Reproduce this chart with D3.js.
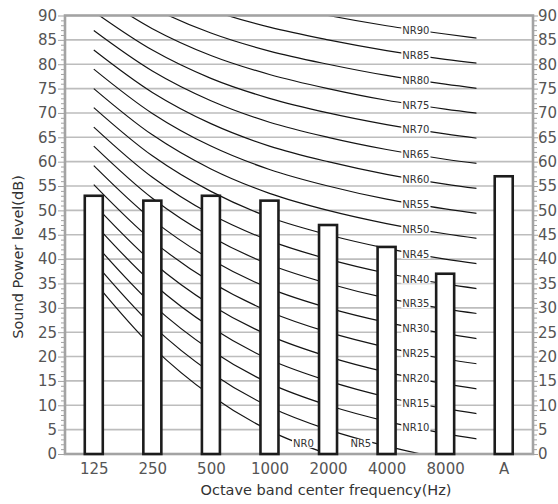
<!DOCTYPE html>
<html><head><meta charset="utf-8">
<script src="https://cdn.jsdelivr.net/npm/d3@7"></script>
<style>
body{margin:0;background:#fff;}
svg{display:block;font-family:"DejaVu Sans",sans-serif;}
</style>
</head><body>
<svg id="chart" width="558" height="504"></svg>
<script>
// ---- data ----
const categories = ["125","250","500","1000","2000","4000","8000","A"];
const levels = [53, 52, 53, 52, 47, 42.5, 37, 57];
const yTickValues = [0,5,10,15,20,25,30,35,40,45,50,55,60,65,70,75,80,85,90];
const xTitle = "Octave band center frequency(Hz)";
const yTitle = "Sound Power level(dB)";
const nrFreqs = ["63","125","250","500","1000","2000","4000","8000"];
const nrNames = ["NR0","NR5","NR10","NR15","NR20","NR25","NR30","NR35","NR40","NR45",
                 "NR50","NR55","NR60","NR65","NR70","NR75","NR80","NR85","NR90"];
const nrCurves = [
  [35.5, 22.0, 12.0,  4.8,  0.0, -3.5, -6.1, -8.0],
  [39.5, 26.4, 16.7,  9.7,  5.0,  1.6, -1.0, -2.9],
  [43.4, 30.7, 21.3, 14.5, 10.0,  6.7,  4.2,  2.3],
  [47.4, 35.1, 26.0, 19.4, 15.0, 11.7,  9.3,  7.5],
  [51.3, 39.4, 30.6, 24.3, 20.0, 16.8, 14.4, 12.6],
  [55.3, 43.8, 35.3, 29.2, 25.0, 21.9, 19.5, 17.8],
  [59.2, 48.1, 39.9, 34.0, 30.0, 27.0, 24.7, 22.9],
  [63.2, 52.5, 44.6, 38.9, 35.0, 32.0, 29.8, 28.1],
  [67.1, 56.8, 49.2, 43.8, 40.0, 37.1, 34.9, 33.2],
  [71.1, 61.2, 53.9, 48.6, 45.0, 42.2, 40.0, 38.4],
  [75.0, 65.5, 58.5, 53.5, 50.0, 47.3, 45.2, 43.5],
  [79.0, 69.9, 63.2, 58.4, 55.0, 52.3, 50.3, 48.7],
  [82.9, 74.2, 67.8, 63.2, 60.0, 57.4, 55.4, 53.8],
  [86.9, 78.6, 72.5, 68.1, 65.0, 62.5, 60.5, 59.0],
  [90.8, 82.9, 77.1, 73.0, 70.0, 67.6, 65.7, 64.1],
  [94.8, 87.3, 81.8, 77.9, 75.0, 72.6, 70.8, 69.3],
  [98.7, 91.6, 86.4, 82.7, 80.0, 77.7, 75.9, 74.4],
  [102.7, 96.0, 91.1, 87.6, 85.0, 82.8, 81.0, 79.6],
  [106.6, 100.3, 95.7, 92.5, 90.0, 87.9, 86.2, 84.7]
];
const nrLabelIndex = [3.58, 4.56, 5.5,5.5,5.5,5.5,5.5,5.5,5.5,5.5,5.5,5.5,5.5,5.5,5.5,5.5,5.5,5.5,5.5];
const bottomLabelLevel = 2.2;

// ---- layout ----
const svg = d3.select("#chart");
const plotL = 65, plotR = 533, plotT = 15.5, plotB = 454;
const x = d3.scalePoint().domain(categories).range([64.5, plotR]).padding(0.5);
const y = d3.scaleLinear().domain([0, 90]).range([plotB, plotT]);
const xNR = d3.scalePoint().domain(nrFreqs).range([x("125"), x("A")]);
const curveEndX = (x("8000") + x("A")) / 2 + 2;

const gridColor = "#bdbdbd", axisColor = "#a3a3a3", textColor = "#555";

// gridlines
svg.append("g").selectAll("line").data(yTickValues.filter(v => v > 0 && v < 90)).join("line")
  .attr("x1", plotL).attr("x2", plotR).attr("y1", d => y(d)).attr("y2", d => y(d))
  .attr("stroke", gridColor).attr("stroke-width", 1.6);

// clip for curves
svg.append("defs").append("clipPath").attr("id", "clipNR").append("rect")
  .attr("x", plotL).attr("y", plotT).attr("width", curveEndX - plotL).attr("height", plotB - plotT);

const line = d3.line().x((d, i) => xNR(nrFreqs[i])).y(d => y(d)).curve(d3.curveCatmullRom.alpha(0.5));
const curveG = svg.append("g").attr("clip-path", "url(#clipNR)");
const paths = curveG.selectAll("path").data(nrCurves).join("path")
  .attr("d", line).attr("fill", "none").attr("stroke", "#151515").attr("stroke-width", 1.2);

// labels
function yAtX(node, xt) {
  let lo = 0, hi = node.getTotalLength();
  for (let k = 0; k < 40; k++) {
    const mid = (lo + hi) / 2;
    if (node.getPointAtLength(mid).x < xt) lo = mid; else hi = mid;
  }
  return node.getPointAtLength((lo + hi) / 2).y;
}
const labelG = svg.append("g");
paths.each(function(d, i) {
  const lx = xNR("63") + nrLabelIndex[i] * xNR.step();
  let ly = nrLabelIndex[i] === 5.5 ? yAtX(this, lx) : y(bottomLabelLevel);
  const g = labelG.append("g");
  const t = g.append("text").attr("x", lx).attr("y", ly).attr("dy", "0.36em")
    .attr("text-anchor", "middle").attr("font-size", 10).attr("fill", "#333").text(nrNames[i]);
  const bb = t.node().getBBox();
  g.insert("rect", "text").attr("x", bb.x - 1).attr("y", bb.y + 1).attr("width", bb.width + 2)
    .attr("height", bb.height - 2).attr("fill", "#fff");
});

// axes
function styleAxis(g) {
  g.selectAll(".domain").remove();
  g.selectAll("line").attr("stroke", axisColor).attr("stroke-width", 1);
  g.selectAll("text").attr("fill", textColor).attr("font-size", 15).attr("font-family", "DejaVu Sans");
}
const minorTicks = d3.range(0, 91).filter(v => v % 5 !== 0);
svg.append("g").attr("transform", `translate(${plotL},0)`)
  .call(d3.axisLeft(y).tickValues(minorTicks).tickSize(4).tickFormat("")).call(styleAxis);
svg.append("g").attr("transform", `translate(${plotR},0)`)
  .call(d3.axisRight(y).tickValues(minorTicks).tickSize(4).tickFormat("")).call(styleAxis);
svg.append("g").attr("transform", `translate(${plotL},0)`)
  .call(d3.axisLeft(y).tickValues(yTickValues).tickSize(7).tickPadding(1)).call(styleAxis);
svg.append("g").attr("transform", `translate(${plotR},0)`)
  .call(d3.axisRight(y).tickValues(yTickValues).tickSize(5).tickPadding(0)).call(styleAxis);
svg.append("g").attr("transform", `translate(0,${plotB})`)
  .call(d3.axisBottom(x).tickSize(0).tickPadding(9)).call(styleAxis)
  .selectAll("text").attr("dy", "0.71em");

// frame
svg.append("rect").attr("x", plotL).attr("y", plotT).attr("width", plotR - plotL).attr("height", plotB - plotT)
  .attr("fill", "none").attr("stroke", axisColor).attr("stroke-width", 2.6);

// bars
svg.append("g").selectAll("rect").data(levels).join("rect")
  .attr("x", (d, i) => x(categories[i]) - 9).attr("width", 18)
  .attr("y", d => y(d)).attr("height", d => y(0) - y(d))
  .attr("fill", "#fff").attr("stroke", "#1c1c1c").attr("stroke-width", 2.6);

// titles
svg.append("text").attr("x", 326).attr("y", 495).attr("text-anchor", "middle")
  .attr("font-size", 14.5).attr("fill", "#333").text(xTitle);
svg.append("text").attr("transform", "translate(23,257) rotate(-90)").attr("text-anchor", "middle")
  .attr("font-size", 14.5).attr("fill", "#333").text(yTitle);
</script>
</body></html>
